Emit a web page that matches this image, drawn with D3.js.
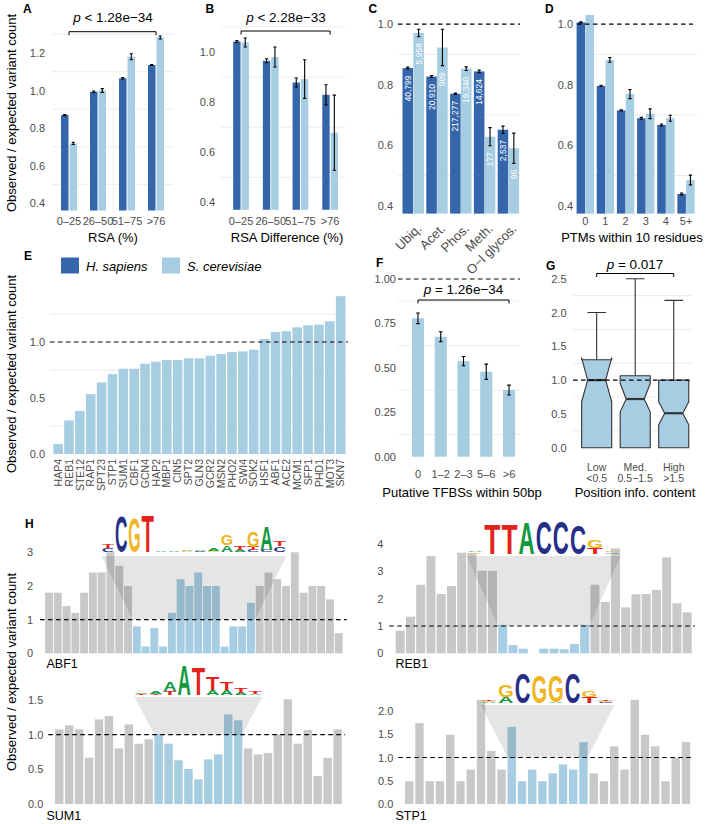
<!DOCTYPE html>
<html><head><meta charset="utf-8">
<script src="https://cdn.jsdelivr.net/npm/d3@7/dist/d3.min.js"></script>
<style>html,body{margin:0;padding:0;background:#fff}svg{display:block}</style>
</head><body>
<svg id="fig" width="708" height="824"></svg>
<script>
// ================= DATA =================
// A: RSA
const rsaCats = ["0–25","26–50","51–75",">76"];
const rsaHuman = [0.869, 0.993, 1.065, 1.136];
const rsaHumanErr = [0.003, 0.004, 0.004, 0.003];
const rsaYeast = [0.718, 1.000, 1.180, 1.283];
const rsaYeastErr = [0.006, 0.010, 0.016, 0.008];
// B: RSA difference
const diffCats = ["0–25","26–50","51–75",">76"];
const diffHuman = [1.042, 0.965, 0.878, 0.829];
const diffHumanErr = [0.004, 0.008, 0.018, 0.040];
const diffYeast = [1.038, 0.980, 0.892, 0.678];
const diffYeastErr = [0.018, 0.040, 0.077, 0.150];
// C: PTM types
const ptmCats = ["Ubiq.","Acet.","Phos.","Meth.","O−l glycos."];
const ptmHuman = [0.855, 0.827, 0.770, 0.844, 0.651];
const ptmHumanErr = [0.003, 0.003, 0.002, 0.004, 0.012];
const ptmYeast = [0.971, 0.923, 0.853, 0.628, 0.590];
const ptmYeastErr = [0.012, 0.060, 0.006, 0.030, 0.050];
const ptmHumanN = ["40,799","20,910","217,277","14,624","2,537"];
const ptmYeastN = ["5,958","989","19,340","177","96"];
// D: PTMs within 10 residues
const nearCats = ["0","1","2","3","4","5+"];
const nearHuman = [1.006, 0.796, 0.715, 0.689, 0.667, 0.439];
const nearHumanErr = [0.002, 0.002, 0.002, 0.003, 0.003, 0.003];
const nearYeast = [1.040, 0.882, 0.769, 0.704, 0.689, 0.485];
const nearYeastErr = [0.005, 0.008, 0.015, 0.016, 0.010, 0.016];
// E: transcription factors
const tfNames = ["HAP4","REB1","STE12","RAP1","SPT23","STP1","SUM1","CBF1","GCN4","HAP2","MBP1","CIN5","SPT2","GLN3","GCR2","MSN2","PHO2","SWI4","SOK2","HSF1","ABF1","ACE2","MCM1","SFP1","PHD1","MOT3","SKN7"];
const tfValues = [0.09,0.30,0.385,0.534,0.639,0.713,0.761,0.761,0.806,0.824,0.839,0.839,0.854,0.854,0.878,0.893,0.910,0.916,0.931,1.027,1.090,1.096,1.131,1.149,1.155,1.185,1.409];
// F: TFBS density
const tfbsCats = ["0","1–2","2–3","5–6",">6"];
const tfbsValues = [0.779, 0.675, 0.538, 0.478, 0.375];
const tfbsErr = [0.030, 0.028, 0.026, 0.043, 0.028];
// G: position information content
const infoCats = ["Low","Med.","High"];
const infoRanges = ["<0.5","0.5−1.5",">1.5"];
const infoQ1 = [0, 0, 0];
const infoMedian = [1.00, 0.72, 0.51];
const infoQ3 = [1.30, 1.065, 1.00];
const infoNotchLo = [0.68, 0.53, 0.34];
const infoNotchHi = [1.33, 0.95, 0.68];
const infoWhiskerHi = [2.0, 2.5, 2.18];
// H: per-position observed / expected
const abf1Values = [1.8,1.8,1.4,1.2,1.8,2.4,2.4,3.0,2.6,2.0, 0.8,0.2,0.75,0.2,1.2,2.2,2.0,2.4,2.0,2.0,0.2,0.8,0.8,1.5, 2.0,2.4,2.2,2.0,3.0,1.8,2.0,2.0,1.6,0.6];
const reb1Values = [0.83,1.34,2.51,3.56,2.17,2.46,3.68,3.66,3.02,3.02, 1.04,0.30,0.17,0,0.17,0.17,0.15,0.34,1.04, 2.51,1.88,3.84,1.68,2.16,2.17,2.32,3.51,1.83,1.50];
const sum1Values = [1.077,1.135,1.077,0.668,1.221,1.269,0.803,1.149,0.870,0.933, 1.005,0.870,0.630,0.505,0.356,0.644,0.716,1.293,1.207, 0.803,0.716,0.736,1.005,1.51,0.870,1.067,0.404,0.668,1.077];
const stp1Values = [0.49,1.74,0.49,0.49,1.49,0.49,0.74,2.24,1.14,0.74, 1.66,0.49,0.74,0.49,0.66,0.85,0.74,1.33, 0.66,0.49,1.24,0.74,2.24,1.49,1.24,0.49,0.99,1.33];
// motif logos (bits, listed top to bottom per position)
const abf1Logo = [[["T",0.18],["C",0.22]],[["C",1.95]],[["G",1.84]],[["T",2.0]],[["A",0.07]],[["A",0.05]],[["A",0.08],["G",0.05]],[["A",0.08],["C",0.05]],[["A",0.1],["G",0.05]],[["G",0.6],["A",0.38]],[["T",0.19],["A",0.13]],[["G",0.86],["T",0.19],["C",0.1]],[["A",1.3],["C",0.1]],[["T",0.27],["C",0.3]]];
const reb1Logo = [[["A",0.08],["G",0.08]],[["T",1.86]],[["T",1.86]],[["A",1.94]],[["C",2.0]],[["C",2.0]],[["C",1.8]],[["G",0.48],["T",0.36]],[["G",0.1],["A",0.07]]];
const sum1Logo = [[["A",0.08],["G",0.05],["T",0.05]],[["A",0.18],["T",0.08]],[["A",0.6],["T",0.25]],[["A",2.0]],[["T",1.87]],[["T",0.87],["A",0.33]],[["T",0.53],["A",0.33]],[["T",0.33],["A",0.13]],[["T",0.2],["A",0.07]]];
const stp1Logo = [[["T",0.12],["G",0.1],["A",0.08]],[["G",0.8],["A",0.4]],[["C",2.0]],[["G",1.87]],[["G",1.73],["A",0.1]],[["C",2.0]],[["G",0.47],["T",0.4]],[["T",0.12],["G",0.1],["C",0.08]]];

// ================= STYLE =================
const FONT = "'Liberation Sans', Arial, Helvetica, sans-serif";
const DARK = "#3566ab", LIGHT = "#a6cde2", GRAY = "#c8c8c8", GRID = "#ebebeb", TICK = "#4d4d4d";
const LOGO_COL = {A:"#129a3f", C:"#262f85", G:"#efb523", T:"#e2231a"};

const svg = d3.select("#fig").attr("font-family", FONT);
svg.append("rect").attr("width",708).attr("height",824).attr("fill","#fff");

function txt(x, y, s, o = {}) {
  const t = svg.append("text").attr("x", x).attr("y", y).text(s)
    .attr("font-size", o.size || 13).attr("fill", o.fill || "#000")
    .attr("text-anchor", o.anchor || "start");
  if (o.weight) t.attr("font-weight", o.weight);
  if (o.style) t.attr("font-style", o.style);
  if (o.rotate) t.attr("transform", `rotate(${o.rotate},${x},${y})`);
  return t;
}
function grid(vals, y, x0, x1) {
  vals.forEach(v => svg.append("line").attr("x1", x0).attr("x2", x1)
    .attr("y1", y(v)).attr("y2", y(v)).attr("stroke", GRID).attr("stroke-width", 1));
}
function dashed(y, x0, x1, g) {
  (g || svg).append("line").attr("x1", x0).attr("x2", x1).attr("y1", y(1)).attr("y2", y(1))
    .attr("stroke", "#000").attr("stroke-width", 1.2).attr("stroke-dasharray", "4.5,3.5");
}
function yAxis(y, ticks, fmt, xr, size) {
  const g = svg.append("g").attr("transform", `translate(${xr},0)`)
    .call(d3.axisLeft(y).tickValues(ticks).tickFormat(fmt).tickSize(0).tickPadding(0));
  g.select(".domain").remove();
  g.selectAll("text").attr("font-family", FONT).attr("font-size", size || 11).attr("fill", TICK);
  return g;
}
function xAxis(x, gy, size) {
  const g = svg.append("g").attr("transform", `translate(0,${gy})`)
    .call(d3.axisBottom(x).tickSize(0).tickPadding(0));
  g.select(".domain").remove();
  g.selectAll("text").attr("font-family", FONT).attr("font-size", size || 11).attr("fill", TICK);
  return g;
}
function errBar(g, cx, yLo, yHi, cap) {
  g.append("path").attr("d", `M${cx-cap},${yHi}H${cx+cap}M${cx},${yHi}V${yLo}M${cx-cap},${yLo}H${cx+cap}`)
    .attr("stroke", "#000").attr("stroke-width", 1.1).attr("fill", "none");
}
function bracket(xa, xb, yb) {
  svg.append("path").attr("d", `M${xa},${yb+3.5}V${yb}H${xb}V${yb+3.5}`)
    .attr("stroke", "#000").attr("stroke-width", 1).attr("fill", "none");
}
function pText(cx, y, rest) {
  const t = svg.append("text").attr("x", cx).attr("y", y).attr("text-anchor", "middle").attr("font-size", 13.5).attr("fill", "#000");
  t.append("tspan").attr("font-style", "italic").text("p");
  t.append("tspan").text(rest);
}
function grouped(o) {
  const x = d3.scaleBand().domain(o.cats).range([o.x0, o.x1]);
  const pw = x.bandwidth() * o.frac;
  const inner = d3.scaleBand().domain(["h", "s"]).range([0, pw]).paddingInner(o.pad);
  const off = (x.bandwidth() - pw) / 2;
  const base = o.y.range()[0];
  const g = svg.append("g");
  if (o.clip) g.attr("clip-path", `url(#${o.clip})`);
  o.cats.forEach((c, i) => {
    [["h", o.h[i], o.he[i], DARK, o.hN], ["s", o.s[i], o.se[i], LIGHT, o.sN]].forEach(([k, v, e, col, lab]) => {
      const bx = x(c) + off + inner(k), bw = inner.bandwidth(), cx = bx + bw / 2;
      g.append("rect").attr("x", bx).attr("y", o.y(v)).attr("width", bw).attr("height", base - o.y(v)).attr("fill", col);
      errBar(g, cx, o.y(v - e), o.y(v + e), 1.6);
      if (lab) {
        const ty = o.y(v - e) + 6.5, tx = cx + 3;
        g.append("text").attr("x", tx).attr("y", ty).attr("transform", `rotate(-90,${tx},${ty})`)
          .attr("text-anchor", "end").attr("font-size", 8.5).attr("fill", "#fff").text(lab[i]);
      }
    });
  });
  return x;
}

// ================= Y TITLES & PANEL LETTERS =================
const YT = "Observed / expected variant count";
txt(16, 113, YT, {anchor: "middle", rotate: -90});
txt(16, 374, YT, {anchor: "middle", rotate: -90});
txt(16, 672, YT, {anchor: "middle", rotate: -90});
[["A",23,13.3],["B",205.5,13.3],["C",368.5,12.7],["D",545,12.7],["E",24,260],["F",376,266.5],["G",546,270],["H",25,528.3]]
  .forEach(([l, x, y]) => txt(x, y, l, {weight: "bold", size: 12}));

// ================= PANEL A =================
const yA = d3.scaleLinear().domain([0.36, 1.32]).range([210.5, 30.5]);
grid([0.5, 0.7, 0.9, 1.1, 1.3], yA, 52, 173);
yAxis(yA, [0.4, 0.6, 0.8, 1.0, 1.2], d3.format(".1f"), 45);
const xA = grouped({cats: rsaCats, h: rsaHuman, he: rsaHumanErr, s: rsaYeast, se: rsaYeastErr, x0: 54.5, x1: 170.5, y: yA, frac: 0.552, pad: 0.12});
xAxis(xA, 217.2);
txt(113, 242, "RSA (%)", {anchor: "middle"});
bracket(xA(rsaCats[0]) + xA.bandwidth()/2, xA(rsaCats[3]) + xA.bandwidth()/2, 31.7);
pText(113, 21.5, " < 1.28e−34");

// ================= PANEL B =================
const yB = d3.scaleLinear().domain([0.37, 1.1]).range([209.8, 26.95]);
grid([0.5, 0.7, 0.9, 1.1], yB, 221, 345);
yAxis(yB, [0.4, 0.6, 0.8, 1.0], d3.format(".1f"), 215);
const xB = grouped({cats: diffCats, h: diffHuman, he: diffHumanErr, s: diffYeast, se: diffYeastErr, x0: 226.2, x1: 345, y: yB, frac: 0.53, pad: 0.12});
xAxis(xB, 217.2);
txt(287, 242, "RSA Difference (%)", {anchor: "middle"});
bracket(xB(diffCats[0]) + xB.bandwidth()/2, xB(diffCats[3]) + xB.bandwidth()/2, 31);
pText(286, 21.5, " < 2.28e−33");

// ================= PANEL C =================
const yC = d3.scaleLinear().domain([0.374, 1.03]).range([213.6, 15.1]);
grid([0.5, 0.7, 0.9], yC, 398, 520);
yAxis(yC, [0.4, 0.6, 0.8, 1.0], d3.format(".1f"), 393);
const xC = grouped({cats: ptmCats, h: ptmHuman, he: ptmHumanErr, s: ptmYeast, se: ptmYeastErr, hN: ptmHumanN, sN: ptmYeastN, x0: 401.3, x1: 520.3, y: yC, frac: 0.9, pad: 0.03});
dashed(yC, 398, 520);
const gxC = xAxis(xC, 217, 13);
gxC.selectAll("text").attr("dy", null).attr("y", null).attr("text-anchor", "end").attr("transform", "translate(9,12.5) rotate(-45)");

// ================= PANEL D =================
svg.append("clipPath").attr("id", "clipD").append("rect").attr("x", 570).attr("y", 15).attr("width", 135).attr("height", 205);
const yD = d3.scaleLinear().domain([0.374, 1.03]).range([213.6, 15.1]);
grid([0.5, 0.7, 0.9], yD, 577, 697);
yAxis(yD, [0.4, 0.6, 0.8, 1.0], d3.format(".1f"), 573);
const xD = grouped({cats: nearCats, h: nearHuman, he: nearHumanErr, s: nearYeast, se: nearYeastErr, x0: 575.2, x1: 696.1, y: yD, frac: 0.86, pad: 0.03, clip: "clipD"});
dashed(yD, 577, 693);
xAxis(xD, 217.2);
txt(632, 242, "PTMs within 10 residues", {anchor: "middle"});

// ================= PANEL E =================
svg.append("rect").attr("x", 61).attr("y", 257.5).attr("width", 18).attr("height", 16).attr("fill", DARK);
txt(86, 270.5, "H. sapiens", {style: "italic"});
svg.append("rect").attr("x", 162).attr("y", 257.5).attr("width", 18).attr("height", 16).attr("fill", LIGHT);
txt(187, 270.5, "S. cerevisiae", {style: "italic"});

const yE = d3.scaleLinear().domain([0, 1.45]).range([454, 291.6]);
grid([0.25, 0.75, 1.25], yE, 50, 348);
yAxis(yE, [0, 0.5, 1.0], d3.format(".1f"), 45);
const xE = d3.scaleBand().domain(tfNames).range([52.8, 346]).paddingInner(0.12).paddingOuter(0.05);
svg.append("g").selectAll("rect").data(tfNames).join("rect")
  .attr("x", d => xE(d)).attr("width", xE.bandwidth())
  .attr("y", (d, i) => yE(tfValues[i])).attr("height", (d, i) => yE(0) - yE(tfValues[i])).attr("fill", LIGHT);
dashed(yE, 50, 348);
const gxE = xAxis(xE, 454, 10.5);
gxE.selectAll("text").attr("dy", null).attr("y", null).attr("text-anchor", "end").attr("transform", "translate(3.7,5) rotate(-90)");

// ================= PANEL F =================
const yF = d3.scaleLinear().domain([0, 1]).range([456.7, 279]);
grid([0.125, 0.375, 0.625, 0.875], yF, 398, 520);
yAxis(yF, [0, 0.25, 0.5, 0.75, 1.0], d3.format(".2f"), 396);
const xF = d3.scaleBand().domain(tfbsCats).range([406.6, 520.4]).paddingInner(0.47).paddingOuter(0.235);
const gF = svg.append("g");
tfbsCats.forEach((c, i) => {
  gF.append("rect").attr("x", xF(c)).attr("width", xF.bandwidth()).attr("y", yF(tfbsValues[i]))
    .attr("height", yF(0) - yF(tfbsValues[i])).attr("fill", LIGHT);
  errBar(gF, xF(c) + xF.bandwidth()/2, yF(tfbsValues[i] - tfbsErr[i]), yF(tfbsValues[i] + tfbsErr[i]), 1.8);
});
dashed(yF, 398, 520);
xAxis(xF, 470.2);
txt(462, 497, "Putative TFBSs within 50bp", {anchor: "middle"});
bracket(xF(tfbsCats[0]) + xF.bandwidth()/2, xF(tfbsCats[4]) + xF.bandwidth()/2, 300);
pText(463.5, 294, " = 1.26e−34");

// ================= PANEL G =================
const yG = d3.scaleLinear().domain([0, 2.5]).range([447.7, 278.7]);
grid([0.25, 0.75, 1.25, 1.75, 2.25], yG, 573, 692);
yAxis(yG, [0, 0.5, 1.0, 1.5, 2.0, 2.5], d3.format(".1f"), 566.5);
const xG = d3.scaleBand().domain(infoCats).range([577.4, 693]).paddingInner(0.22).paddingOuter(0.11);
const gG = svg.append("g");
infoCats.forEach((c, i) => {
  const x0 = xG(c), w = xG.bandwidth(), x1 = x0 + w, cx = x0 + w/2, nw = w * 0.3, cw = w * 0.31;
  gG.append("path").attr("d", `M${cx},${yG(infoQ3[i])}V${yG(infoWhiskerHi[i])}M${cx-cw},${yG(infoWhiskerHi[i])}H${cx+cw}`)
    .attr("stroke", "#333").attr("stroke-width", 1.1).attr("fill", "none");
  const pts = [[x0, yG(infoQ3[i])], [x0, yG(infoNotchHi[i])], [cx - nw, yG(infoMedian[i])], [x0, yG(infoNotchLo[i])], [x0, yG(infoQ1[i])],
               [x1, yG(infoQ1[i])], [x1, yG(infoNotchLo[i])], [cx + nw, yG(infoMedian[i])], [x1, yG(infoNotchHi[i])], [x1, yG(infoQ3[i])]];
  gG.append("path").attr("d", "M" + pts.map(p => p.join(",")).join("L") + "Z")
    .attr("fill", LIGHT).attr("stroke", "#333").attr("stroke-width", 1.1).attr("stroke-linejoin", "round");
  gG.append("line").attr("x1", cx - nw).attr("x2", cx + nw).attr("y1", yG(infoMedian[i])).attr("y2", yG(infoMedian[i]))
    .attr("stroke", "#333").attr("stroke-width", 2.2);
  txt(cx, 471, infoCats[i], {anchor: "middle", size: 10.5, fill: TICK});
  txt(cx, 482, infoRanges[i], {anchor: "middle", size: 10.5, fill: TICK});
});
dashed(yG, 573, 692);
txt(635, 497, "Position info. content", {anchor: "middle"});
bracket(xG(infoCats[0]) + xG.bandwidth()/2, xG(infoCats[2]) + xG.bandwidth()/2, 273.5);
pText(635, 268.5, " = 0.017");

// ================= PANEL H =================
function hPanel(o) {
  const n = o.vals.length;
  const x = d3.scaleBand().domain(d3.range(n)).range([o.x0, o.x1]).paddingInner(o.pIn).paddingOuter(o.pIn / 2);
  const y = d3.scaleLinear().domain(o.dom).range(o.yr);
  yAxis(y, o.ticks, o.fmt, o.tickRight);
  const g = svg.append("g");
  o.vals.forEach((v, i) => {
    const blue = i >= o.b0 && i <= o.b1;
    g.append("rect").attr("x", x(i)).attr("width", x.bandwidth()).attr("y", y(v)).attr("height", y(0) - y(v))
      .attr("fill", blue ? LIGHT : GRAY);
  });
  const bl = x(o.b0), br = x(o.b1) + x.bandwidth(), bc = (bl + br) / 2;
  const ll = bc - o.logoW / 2, lr = bc + o.logoW / 2;
  g.append("path").attr("d", `M${ll},${o.trapTop}L${lr},${o.trapTop}L${br},${y(1)}L${bl},${y(1)}Z`)
    .attr("fill", "#000").attr("fill-opacity", 0.1);
  dashed(y, o.dx0, o.dx1, g);
  const colW = o.logoW / o.logo.length;
  o.logo.forEach((col, j) => {
    let yb = o.baseY;
    col.slice().reverse().forEach(([ch, b]) => {
      const hp = b * o.bitPx;
      if (hp > 0.4) {
        g.append("text").attr("x", ll + j * colW + colW * 0.03).attr("y", yb)
          .attr("font-size", hp / 0.716).attr("font-weight", "bold")
          .attr("textLength", colW * 0.94).attr("lengthAdjust", "spacingAndGlyphs")
          .attr("fill", LOGO_COL[ch]).text(ch);
      }
      yb -= hp;
    });
  });
  txt(o.nameX, o.nameY, o.name, {size: 12.5});
}
hPanel({vals: abf1Values, b0: 10, b1: 23, x0: 44.6, x1: 343.1, pIn: 0.1, dom: [0, 3], yr: [653.3, 552.3],
  ticks: [0, 1, 2, 3], fmt: d3.format("d"), tickRight: 33, dx0: 40, dx1: 346.7,
  logo: abf1Logo, bitPx: 18.5, logoW: 185, baseY: 552, trapTop: 556, name: "ABF1", nameX: 46.5, nameY: 668});
hPanel({vals: reb1Values, b0: 10, b1: 18, x0: 395.1, x1: 692.3, pIn: 0.12, dom: [0, 4], yr: [653.3, 544],
  ticks: [0, 1, 2, 3, 4], fmt: d3.format("d"), tickRight: 383.3, dx0: 389.3, dx1: 695,
  logo: reb1Logo, bitPx: 16.5, logoW: 154, baseY: 553.5, trapTop: 556, name: "REB1", nameX: 395.5, nameY: 668});
hPanel({vals: sum1Values, b0: 10, b1: 18, x0: 54.25, x1: 342.5, pIn: 0.15, dom: [0, 1.5], yr: [804, 700],
  ticks: [0, 0.5, 1.0, 1.5], fmt: d3.format(".1f"), tickRight: 43.3, dx0: 48.3, dx1: 345,
  logo: sum1Logo, bitPx: 15, logoW: 128, baseY: 695, trapTop: 696.7, name: "SUM1", nameX: 46.5, nameY: 820});
hPanel({vals: stp1Values, b0: 10, b1: 17, x0: 404.1, x1: 691.1, pIn: 0.18, dom: [0, 2], yr: [804, 711],
  ticks: [0, 0.5, 1.0, 1.5, 2.0], fmt: d3.format(".1f"), tickRight: 393.3, dx0: 398.3, dx1: 693.3,
  logo: stp1Logo, bitPx: 15, logoW: 133.6, baseY: 703.3, trapTop: 705, name: "STP1", nameX: 395.5, nameY: 820});
</script>
</body></html>
